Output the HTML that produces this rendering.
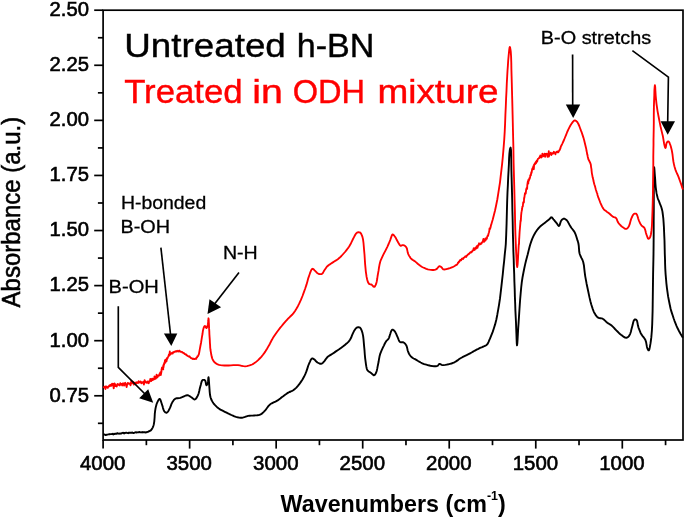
<!DOCTYPE html>
<html lang="en">
<head>
<meta charset="utf-8">
<title>FTIR spectra of h-BN</title>
<style>
html,body{margin:0;padding:0;background:#fff;}
body{width:685px;height:518px;overflow:hidden;}
svg{display:block;}
text{font-family:"Liberation Sans",Arial,sans-serif;fill:#000;}
.tk text{font-size:20px;stroke:#000;stroke-width:0.6px;}
.ann text{font-size:18.9px;stroke:#000;stroke-width:0.3px;}
.big text{font-size:33px;stroke:#000;stroke-width:0.4px;}
.red text{fill:#f00;stroke:#f00;}
</style>
</head>
<body>
<svg width="685" height="518" viewBox="0 0 685 518">
<rect x="0" y="0" width="685" height="518" fill="#fff"/>
<g fill="none" stroke="#000" stroke-width="1.7" stroke-linecap="butt">
<rect x="103.1" y="10.2" width="579.9" height="429.8"/>
<line x1="94.2" y1="10.20" x2="103.1" y2="10.20"/>
<line x1="97.9" y1="37.74" x2="103.1" y2="37.74"/>
<line x1="94.2" y1="65.28" x2="103.1" y2="65.28"/>
<line x1="97.9" y1="92.82" x2="103.1" y2="92.82"/>
<line x1="94.2" y1="120.37" x2="103.1" y2="120.37"/>
<line x1="97.9" y1="147.91" x2="103.1" y2="147.91"/>
<line x1="94.2" y1="175.45" x2="103.1" y2="175.45"/>
<line x1="97.9" y1="202.99" x2="103.1" y2="202.99"/>
<line x1="94.2" y1="230.53" x2="103.1" y2="230.53"/>
<line x1="97.9" y1="258.07" x2="103.1" y2="258.07"/>
<line x1="94.2" y1="285.61" x2="103.1" y2="285.61"/>
<line x1="97.9" y1="313.15" x2="103.1" y2="313.15"/>
<line x1="94.2" y1="340.69" x2="103.1" y2="340.69"/>
<line x1="97.9" y1="368.24" x2="103.1" y2="368.24"/>
<line x1="94.2" y1="395.78" x2="103.1" y2="395.78"/>
<line x1="97.9" y1="423.32" x2="103.1" y2="423.32"/>
<line x1="103.10" y1="440.0" x2="103.10" y2="448.6"/>
<line x1="146.37" y1="440.0" x2="146.37" y2="445.2"/>
<line x1="189.63" y1="440.0" x2="189.63" y2="448.6"/>
<line x1="232.90" y1="440.0" x2="232.90" y2="445.2"/>
<line x1="276.17" y1="440.0" x2="276.17" y2="448.6"/>
<line x1="319.43" y1="440.0" x2="319.43" y2="445.2"/>
<line x1="362.70" y1="440.0" x2="362.70" y2="448.6"/>
<line x1="405.97" y1="440.0" x2="405.97" y2="445.2"/>
<line x1="449.23" y1="440.0" x2="449.23" y2="448.6"/>
<line x1="492.50" y1="440.0" x2="492.50" y2="445.2"/>
<line x1="535.77" y1="440.0" x2="535.77" y2="448.6"/>
<line x1="579.03" y1="440.0" x2="579.03" y2="445.2"/>
<line x1="622.30" y1="440.0" x2="622.30" y2="448.6"/>
<line x1="665.57" y1="440.0" x2="665.57" y2="445.2"/>
</g>
<g class="tk">
<text x="89.0" y="16.0" text-anchor="end" textLength="39.4" lengthAdjust="spacingAndGlyphs">2.50</text>
<text x="89.0" y="71.1" text-anchor="end" textLength="39.4" lengthAdjust="spacingAndGlyphs">2.25</text>
<text x="89.0" y="126.2" text-anchor="end" textLength="39.4" lengthAdjust="spacingAndGlyphs">2.00</text>
<text x="89.0" y="181.2" text-anchor="end" textLength="39.4" lengthAdjust="spacingAndGlyphs">1.75</text>
<text x="89.0" y="236.3" text-anchor="end" textLength="39.4" lengthAdjust="spacingAndGlyphs">1.50</text>
<text x="89.0" y="291.4" text-anchor="end" textLength="39.4" lengthAdjust="spacingAndGlyphs">1.25</text>
<text x="89.0" y="346.5" text-anchor="end" textLength="39.4" lengthAdjust="spacingAndGlyphs">1.00</text>
<text x="89.0" y="401.6" text-anchor="end" textLength="39.4" lengthAdjust="spacingAndGlyphs">0.75</text>
<text x="102.7" y="469.7" text-anchor="middle" textLength="45.4" lengthAdjust="spacingAndGlyphs">4000</text>
<text x="189.2" y="469.7" text-anchor="middle" textLength="45.4" lengthAdjust="spacingAndGlyphs">3500</text>
<text x="275.8" y="469.7" text-anchor="middle" textLength="45.4" lengthAdjust="spacingAndGlyphs">3000</text>
<text x="362.3" y="469.7" text-anchor="middle" textLength="45.4" lengthAdjust="spacingAndGlyphs">2500</text>
<text x="448.8" y="469.7" text-anchor="middle" textLength="45.4" lengthAdjust="spacingAndGlyphs">2000</text>
<text x="535.4" y="469.7" text-anchor="middle" textLength="45.4" lengthAdjust="spacingAndGlyphs">1500</text>
<text x="621.9" y="469.7" text-anchor="middle" textLength="45.4" lengthAdjust="spacingAndGlyphs">1000</text>
</g>
<path d="M103.2,434.9 L104.3,434.5 L105.1,434.7 L105.8,435.1 L106.8,434.7 L107.4,434.6 L108.4,434.4 L109.3,434.2 L109.6,434.3 L110.2,434.1 L110.9,434.1 L111.6,434.1 L112.3,433.8 L113.3,434.5 L113.9,433.7 L114.6,434.0 L115.1,433.8 L115.3,433.9 L115.9,433.7 L116.6,433.7 L117.4,433.1 L118.3,433.6 L119.3,433.7 L120.1,433.4 L120.3,433.5 L120.9,433.7 L121.5,433.4 L122.4,432.9 L123.2,432.8 L124.1,433.4 L124.2,433.1 L124.4,433.3 L125.4,432.9 L126.2,432.6 L127.1,432.9 L127.8,433.1 L128.4,432.8 L128.5,433.2 L129.4,432.7 L130.4,432.7 L131.1,432.6 L131.7,432.9 L132.4,432.5 L132.4,432.6 L132.6,432.8 L133.5,433.0 L134.2,432.8 L135.2,432.4 L136.0,432.2 L136.2,432.4 L136.5,432.6 L137.4,432.4 L138.3,432.2 L139.0,432.4 L139.2,432.4 L139.6,432.0 L140.2,432.2 L141.2,432.4 L142.1,432.1 L142.2,432.4 L142.4,432.3 L143.4,432.3 L144.2,432.3 L144.9,432.3 L145.2,432.5 L146.2,432.3 L147.0,432.3 L147.2,432.0 L147.2,431.9 L148.2,431.7 L148.4,431.7 L148.9,431.1 L149.4,431.2 L150.4,430.7 L151.2,430.0 L152.0,428.9 L152.7,427.6 L153.3,426.1 L153.8,424.4 L154.3,421.3 L154.6,417.5 L154.8,413.7 L155.2,410.3 L155.6,408.0 L156.1,405.9 L156.6,404.0 L157.3,402.3 L157.9,401.1 L158.5,400.0 L159.1,399.2 L159.7,398.9 L160.3,399.5 L160.8,400.9 L161.4,402.7 L161.9,404.3 L162.5,406.1 L163.0,408.1 L163.6,409.9 L164.3,411.3 L164.9,411.9 L165.5,412.4 L166.1,412.7 L166.7,412.7 L167.4,412.3 L168.0,411.5 L168.7,410.4 L169.3,409.3 L170.1,407.7 L170.8,405.8 L171.5,403.9 L172.3,402.3 L173.0,401.2 L173.7,400.2 L174.4,399.4 L175.3,398.7 L176.4,398.3 L177.7,398.2 L179.0,398.1 L180.4,397.9 L182.1,397.2 L184.0,396.3 L185.8,395.5 L187.4,395.2 L188.5,395.5 L189.5,396.0 L190.5,396.7 L191.4,397.3 L192.3,398.0 L193.2,398.7 L194.0,399.3 L194.8,399.5 L195.7,399.0 L196.5,397.9 L197.3,396.6 L198.0,395.2 L198.7,393.2 L199.3,390.8 L199.8,388.4 L200.4,386.2 L200.9,384.4 L201.3,382.7 L201.8,381.1 L202.5,380.2 L203.1,379.9 L203.7,379.9 L204.4,379.9 L204.9,380.2 L205.5,381.3 L205.8,382.9 L206.1,384.5 L206.5,385.2 L206.8,385.0 L207.1,384.5 L207.4,383.9 L207.7,383.2 L208.0,381.7 L208.2,379.7 L208.3,377.9 L208.5,377.2 L208.7,378.2 L208.9,380.5 L209.1,383.5 L209.3,386.2 L209.5,389.0 L209.7,391.9 L210.0,394.8 L210.5,397.3 L211.1,399.0 L211.8,400.5 L212.6,401.9 L213.5,403.3 L214.6,404.7 L215.8,405.9 L217.1,407.2 L218.5,408.3 L220.4,409.6 L222.6,410.7 L224.8,411.8 L226.6,412.7 L227.5,413.2 L228.3,413.5 L229.1,413.9 L230.0,414.3 L231.4,415.0 L232.9,415.7 L234.4,416.4 L236.0,416.9 L237.5,417.3 L239.0,417.6 L240.5,417.7 L242.0,417.7 L243.5,417.4 L245.0,416.9 L246.6,416.3 L248.1,415.9 L249.6,415.7 L251.1,415.6 L252.6,415.6 L254.1,415.5 L255.6,415.4 L257.2,415.3 L258.7,415.1 L260.1,414.7 L261.5,413.9 L262.8,412.8 L264.0,411.6 L265.2,410.3 L266.4,408.8 L267.6,407.2 L268.8,405.7 L270.2,404.3 L271.8,403.3 L273.6,402.4 L275.5,401.6 L277.2,400.7 L278.8,399.6 L280.3,398.5 L281.7,397.3 L283.2,396.2 L284.5,395.2 L285.8,394.3 L287.0,393.4 L288.3,392.6 L289.5,392.0 L290.8,391.5 L292.1,390.9 L293.3,390.2 L294.8,389.0 L296.4,387.6 L297.9,385.9 L299.3,384.2 L300.9,381.9 L302.5,379.5 L304.0,376.8 L305.3,374.2 L306.4,371.4 L307.4,368.4 L308.3,365.5 L309.3,363.1 L310.0,361.6 L310.6,360.2 L311.3,359.1 L312.0,358.5 L312.6,358.5 L313.2,358.7 L313.8,359.1 L314.4,359.5 L315.1,360.2 L315.8,361.0 L316.6,361.8 L317.4,362.5 L318.4,363.0 L319.4,363.5 L320.4,363.7 L321.4,363.7 L322.2,363.3 L323.0,362.7 L323.7,361.9 L324.4,361.1 L325.1,360.2 L325.8,359.1 L326.6,358.1 L327.4,357.1 L328.5,356.2 L329.8,355.4 L331.1,354.6 L332.5,353.7 L334.2,352.6 L335.9,351.4 L337.7,350.2 L339.5,349.0 L341.3,347.7 L343.2,346.3 L344.9,344.9 L346.5,343.6 L347.5,342.7 L348.4,341.8 L349.2,340.9 L350.0,339.8 L351.1,337.8 L352.0,335.4 L353.0,333.1 L354.0,331.1 L354.7,330.0 L355.4,328.9 L356.2,328.1 L357.0,327.5 L357.7,327.3 L358.5,327.2 L359.3,327.4 L360.0,327.7 L360.8,328.6 L361.4,329.9 L362.0,331.4 L362.5,333.1 L363.1,335.9 L363.5,339.2 L363.8,342.7 L364.1,346.2 L364.5,350.2 L364.8,354.5 L365.2,358.6 L365.7,362.3 L366.0,364.6 L366.4,366.9 L366.8,368.8 L367.5,370.3 L368.1,371.0 L368.8,371.5 L369.4,371.9 L370.1,372.3 L370.6,372.7 L371.1,373.1 L371.6,373.5 L372.1,373.9 L372.6,374.3 L373.1,374.8 L373.6,375.2 L374.1,375.3 L374.6,375.0 L375.2,374.4 L375.6,373.6 L376.1,372.7 L376.7,371.0 L377.2,368.9 L377.6,366.6 L378.1,364.3 L378.6,361.8 L379.0,359.2 L379.5,356.6 L380.1,354.2 L380.8,352.3 L381.5,350.6 L382.3,348.9 L383.1,347.2 L383.9,345.6 L384.6,344.0 L385.4,342.5 L386.2,341.2 L386.8,340.5 L387.5,339.9 L388.1,339.3 L388.6,338.6 L389.1,337.6 L389.5,336.4 L389.8,335.3 L390.2,334.1 L390.6,332.8 L391.1,331.4 L391.6,330.3 L392.2,329.7 L392.8,329.7 L393.4,330.0 L394.0,330.5 L394.6,331.1 L395.4,332.3 L396.2,333.9 L396.9,335.6 L397.6,337.2 L398.2,338.6 L398.8,340.1 L399.4,341.4 L400.2,342.2 L400.9,342.4 L401.7,342.2 L402.5,342.1 L403.2,342.2 L404.0,342.7 L404.8,343.4 L405.5,344.2 L406.2,345.2 L406.8,346.7 L407.3,348.6 L407.7,350.5 L408.3,352.2 L408.9,353.5 L409.6,354.7 L410.4,355.8 L411.3,356.8 L412.4,357.7 L413.6,358.5 L415.0,359.2 L416.3,359.9 L417.7,360.8 L419.2,361.7 L420.7,362.5 L422.3,363.3 L424.2,364.1 L426.3,364.7 L428.4,365.3 L430.4,365.7 L432.3,366.0 L434.2,366.2 L436.0,366.2 L437.4,365.9 L438.0,365.4 L438.5,364.8 L438.9,364.2 L439.4,363.9 L440.1,364.0 L440.8,364.4 L441.5,364.8 L442.4,365.1 L443.7,365.1 L445.3,364.9 L446.9,364.6 L448.4,364.3 L449.9,363.9 L451.5,363.5 L453.0,362.9 L454.5,362.3 L456.0,361.4 L457.5,360.4 L458.9,359.3 L460.5,358.3 L462.4,357.2 L464.5,356.2 L466.6,355.2 L468.5,354.2 L470.1,353.3 L471.6,352.5 L473.1,351.6 L474.5,350.8 L475.8,350.1 L477.1,349.4 L478.4,348.8 L479.6,348.2 L480.6,347.7 L481.7,347.3 L482.6,346.9 L483.6,346.5 L484.5,346.1 L485.4,345.7 L486.2,345.2 L487.0,344.6 L487.9,343.4 L488.6,341.9 L489.3,340.2 L490.1,338.4 L491.3,335.4 L492.7,331.9 L493.9,328.2 L495.1,324.4 L496.3,319.7 L497.3,314.7 L498.2,309.6 L499.1,304.3 L500.0,298.4 L500.7,292.4 L501.4,286.3 L502.1,280.2 L502.8,274.0 L503.4,267.6 L504.1,261.5 L504.6,256.1 L504.9,253.0 L505.2,250.3 L505.5,247.5 L505.8,244.0 L506.2,234.8 L506.6,223.3 L506.9,211.3 L507.2,200.3 L507.5,192.2 L507.9,184.5 L508.2,177.1 L508.6,170.1 L508.9,164.3 L509.1,158.6 L509.4,153.5 L509.8,150.0 L510.0,149.1 L510.2,148.3 L510.4,147.8 L510.6,147.6 L511.0,150.0 L511.2,155.9 L511.3,163.2 L511.4,170.1 L511.6,177.2 L511.8,184.6 L512.0,192.3 L512.2,200.3 L512.4,210.8 L512.7,222.2 L512.9,233.5 L513.2,244.0 L513.4,251.9 L513.7,259.4 L513.9,266.7 L514.2,274.1 L514.4,281.7 L514.7,289.4 L514.9,297.0 L515.2,304.3 L515.4,310.6 L515.7,316.8 L516.0,322.7 L516.2,328.4 L516.4,333.7 L516.6,339.2 L516.8,343.6 L517.0,345.4 L517.3,343.6 L517.6,339.2 L517.9,333.7 L518.2,328.4 L518.6,322.6 L519.0,316.5 L519.4,310.3 L519.8,304.3 L520.2,298.7 L520.7,293.0 L521.2,287.5 L521.8,282.2 L522.5,277.5 L523.4,272.8 L524.3,268.3 L525.2,264.1 L526.0,260.8 L526.8,257.7 L527.6,254.8 L528.3,252.0 L528.8,249.9 L529.3,247.9 L529.8,246.0 L530.4,244.0 L531.2,241.6 L532.1,239.1 L533.2,236.7 L534.3,234.4 L535.4,232.5 L536.6,230.7 L537.9,229.0 L539.3,227.4 L540.7,226.0 L542.3,224.7 L543.9,223.5 L545.3,222.4 L546.4,221.6 L547.4,220.8 L548.4,220.0 L549.3,219.3 L549.9,218.7 L550.4,218.0 L550.9,217.5 L551.4,217.3 L551.9,217.5 L552.4,218.0 L552.9,218.6 L553.4,219.3 L554.2,220.2 L555.1,221.3 L556.0,222.4 L556.8,223.4 L557.4,224.2 L558.0,225.1 L558.5,225.8 L559.0,226.0 L559.6,225.2 L560.1,223.6 L560.7,221.7 L561.4,220.3 L562.0,219.7 L562.6,219.2 L563.3,218.8 L564.0,218.7 L564.7,218.8 L565.4,219.2 L566.1,219.7 L566.8,220.3 L567.7,221.5 L568.6,223.1 L569.5,224.8 L570.4,226.4 L571.5,228.0 L572.7,229.5 L573.9,231.1 L574.9,232.8 L575.7,234.7 L576.4,236.7 L577.0,238.7 L577.5,240.4 L577.8,241.3 L578.1,242.2 L578.3,243.0 L578.5,244.0 L578.8,246.2 L579.0,248.8 L579.2,251.5 L579.7,254.0 L580.5,256.0 L581.4,257.9 L582.4,259.8 L583.2,262.0 L583.9,265.2 L584.3,268.8 L584.7,272.4 L585.2,276.1 L585.9,279.9 L586.6,283.7 L587.4,287.5 L588.2,291.2 L588.9,294.6 L589.6,297.9 L590.4,301.2 L591.2,304.2 L592.0,306.7 L592.8,309.1 L593.6,311.3 L594.6,313.3 L595.4,314.6 L596.3,315.9 L597.2,316.9 L598.2,317.7 L599.2,318.1 L600.4,318.2 L601.5,318.4 L602.6,318.7 L603.8,319.5 L605.0,320.6 L606.1,321.7 L607.3,322.7 L608.3,323.4 L609.3,324.0 L610.3,324.6 L611.3,325.3 L612.5,326.4 L613.8,327.7 L615.0,329.0 L616.3,330.3 L617.5,331.5 L618.8,332.8 L620.0,334.0 L621.3,335.0 L622.6,335.9 L623.9,336.9 L625.1,337.6 L626.3,337.8 L627.2,337.6 L628.0,337.0 L628.7,336.3 L629.4,335.4 L630.2,333.8 L630.9,331.7 L631.4,329.4 L632.0,327.3 L632.6,325.1 L633.1,322.8 L633.7,320.8 L634.4,319.7 L634.9,319.5 L635.4,319.5 L635.9,319.6 L636.4,319.9 L637.1,321.1 L637.5,323.0 L637.9,325.3 L638.4,327.3 L639.1,329.1 L639.8,330.9 L640.5,332.7 L641.4,334.4 L642.4,335.8 L643.5,337.2 L644.5,338.5 L645.4,340.0 L646.1,342.1 L646.5,344.4 L646.9,346.7 L647.4,348.4 L647.7,349.1 L648.1,349.8 L648.5,350.3 L648.8,350.4 L649.3,349.6 L649.7,347.9 L650.1,345.6 L650.5,343.4 L650.9,340.5 L651.3,337.4 L651.6,334.0 L651.9,330.3 L652.2,324.4 L652.4,317.9 L652.6,311.1 L652.7,304.2 L652.8,296.7 L652.9,288.9 L653.0,281.2 L653.1,274.1 L653.2,269.0 L653.3,264.3 L653.4,259.5 L653.5,254.0 L653.6,244.2 L653.7,233.2 L653.7,221.6 L653.8,210.3 L653.8,197.5 L653.8,183.3 L653.9,171.8 L654.1,167.1 L654.3,168.0 L654.5,170.3 L654.7,173.3 L654.9,176.1 L655.2,179.5 L655.4,183.3 L655.7,187.0 L656.1,190.2 L656.4,192.2 L656.7,193.9 L657.1,195.6 L657.5,197.2 L657.9,198.6 L658.4,199.9 L659.0,201.2 L659.5,202.6 L660.1,204.2 L660.8,205.8 L661.4,207.5 L661.9,209.3 L662.4,211.4 L662.7,213.5 L663.0,215.8 L663.3,218.3 L663.6,222.4 L663.9,227.0 L664.1,231.7 L664.3,236.4 L664.5,240.8 L664.6,245.1 L664.7,249.5 L664.8,254.0 L665.0,259.0 L665.1,264.0 L665.3,269.1 L665.6,274.1 L666.0,278.7 L666.4,283.3 L666.9,287.8 L667.5,292.2 L668.1,296.4 L668.9,300.5 L669.7,304.5 L670.5,308.2 L671.2,310.9 L672.0,313.4 L672.8,315.8 L673.6,318.3 L674.5,320.8 L675.5,323.3 L676.5,325.8 L677.6,328.3 L679.1,331.2 L680.8,334.3 L682.3,336.8 L682.9,337.8" fill="none" stroke="#000" stroke-width="1.9" stroke-linejoin="round"/>
<path d="M103.2,386.8 L104.2,387.4 L104.8,387.6 L105.1,386.5 L105.4,389.0 L105.9,386.6 L106.4,386.5 L107.0,387.4 L107.8,387.8 L108.3,386.5 L108.8,386.1 L109.5,385.3 L109.6,385.8 L109.6,386.3 L110.2,385.9 L110.8,384.8 L111.5,385.7 L112.1,383.6 L112.6,385.0 L113.1,383.9 L113.7,388.4 L114.4,383.4 L115.0,384.1 L115.1,384.9 L115.4,386.0 L116.0,385.5 L116.7,386.4 L117.2,384.5 L117.7,384.0 L118.1,384.6 L118.6,384.4 L119.0,385.2 L119.7,385.5 L120.1,384.2 L120.3,383.1 L121.1,384.6 L121.6,383.9 L122.2,385.5 L122.7,383.5 L123.5,383.4 L124.2,385.6 L124.2,383.7 L124.7,383.9 L125.2,382.8 L125.6,384.1 L126.2,385.3 L126.6,387.0 L127.3,383.9 L127.8,382.9 L128.3,383.3 L128.9,383.9 L129.5,383.6 L130.0,383.4 L130.5,385.3 L131.0,383.4 L131.4,380.6 L132.1,382.5 L132.3,382.9 L132.4,383.1 L133.0,381.8 L133.7,384.6 L134.4,382.6 L134.9,383.4 L135.4,382.6 L136.1,383.6 L136.2,382.6 L136.8,382.3 L137.3,382.6 L137.9,383.1 L138.6,381.2 L139.1,382.6 L139.4,382.4 L139.9,382.4 L140.6,381.4 L141.3,383.3 L142.1,382.2 L142.6,382.7 L142.6,382.4 L142.7,382.7 L143.4,381.9 L143.9,384.6 L144.6,380.2 L145.3,381.9 L145.6,382.2 L145.7,382.0 L146.2,382.8 L146.7,382.7 L147.3,381.5 L147.9,382.8 L148.2,381.8 L148.2,381.3 L148.7,383.3 L149.3,381.5 L149.9,381.3 L150.3,379.0 L150.8,380.2 L151.3,381.0 L151.4,380.7 L151.9,378.9 L152.5,378.6 L152.8,380.0 L153.1,379.8 L153.8,378.6 L154.2,379.2 L154.5,376.4 L155.2,378.9 L155.6,378.7 L155.6,378.2 L156.0,378.4 L156.6,374.6 L156.9,377.0 L157.4,377.4 L157.9,375.7 L158.2,375.7 L158.6,375.8 L159.1,375.6 L159.3,374.2 L159.7,375.2 L160.1,373.0 L160.5,372.1 L160.8,375.0 L161.5,371.3 L161.5,369.7 L161.5,369.9 L162.1,367.3 L162.4,367.3 L162.6,368.7 L163.2,369.4 L163.3,365.2 L163.5,367.4 L163.9,363.9 L163.9,365.1 L164.3,363.7 L164.4,362.7 L164.9,361.5 L165.0,360.1 L165.4,360.5 L165.5,362.7 L165.8,359.8 L166.0,360.0 L166.3,359.1 L166.6,361.1 L166.8,358.5 L167.2,359.0 L167.3,357.8 L167.6,358.1 L168.0,357.0 L168.2,356.4 L168.7,356.1 L168.9,354.4 L169.4,355.3 L169.8,351.5 L170.1,354.6 L170.1,354.7 L170.6,354.1 L170.7,354.1 L171.1,353.6 L171.7,353.1 L171.7,353.2 L171.9,352.8 L172.3,352.8 L172.5,353.6 L173.0,352.2 L173.4,352.2 L173.6,352.5 L174.2,351.9 L174.6,351.6 L174.7,351.6 L175.1,351.7 L175.6,351.4 L176.0,351.2 L176.4,351.6 L177.1,350.8 L177.3,351.0 L177.7,351.2 L178.2,351.5 L178.6,351.1 L179.1,350.6 L179.7,350.7 L179.8,351.4 L180.2,351.6 L180.8,351.8 L181.1,351.9 L181.3,351.8 L182.1,351.9 L182.4,352.5 L182.7,352.5 L183.4,353.0 L183.9,353.3 L183.9,352.9 L184.4,353.9 L184.9,354.1 L185.4,354.2 L185.7,354.1 L186.4,355.1 L186.9,355.2 L186.9,355.4 L187.5,355.8 L187.9,356.1 L188.4,356.1 L188.8,356.5 L189.4,356.3 L189.9,357.1 L190.1,357.2 L190.8,358.0 L191.5,358.1 L191.8,358.3 L192.3,358.7 L192.7,358.6 L193.0,358.9 L193.1,359.1 L193.8,358.6 L194.4,359.1 L194.7,359.0 L195.3,358.8 L195.4,358.8 L195.6,358.4 L196.3,358.8 L196.4,358.1 L196.9,357.3 L197.2,357.2 L197.5,356.1 L198.0,356.1 L198.9,354.1 L199.4,351.5 L199.9,348.7 L200.4,346.0 L201.0,343.0 L201.5,339.8 L202.0,336.7 L202.5,334.0 L202.7,332.4 L202.9,330.9 L203.2,329.6 L203.5,328.4 L203.8,327.6 L204.1,326.8 L204.5,326.2 L204.9,326.0 L205.3,326.3 L205.7,327.0 L206.1,327.7 L206.5,328.0 L206.9,327.6 L207.3,326.7 L207.6,325.5 L207.9,324.4 L208.1,322.7 L208.3,320.7 L208.4,319.0 L208.5,318.3 L208.7,319.4 L208.8,322.0 L209.0,325.4 L209.1,328.4 L209.3,331.3 L209.4,334.2 L209.6,337.1 L209.8,340.0 L209.9,342.6 L210.1,345.1 L210.2,347.6 L210.5,350.0 L210.9,352.4 L211.3,354.8 L211.8,357.1 L212.5,359.1 L213.1,360.3 L213.8,361.4 L214.6,362.3 L215.5,363.1 L216.6,363.8 L217.8,364.3 L219.1,364.8 L220.5,365.1 L222.4,365.4 L224.4,365.5 L226.5,365.5 L228.6,365.5 L230.9,365.4 L233.3,365.2 L235.7,365.1 L238.0,365.1 L239.9,365.4 L241.6,365.8 L243.4,366.2 L245.1,366.3 L246.9,366.1 L248.7,365.7 L250.4,365.2 L252.1,364.5 L253.7,363.6 L255.2,362.6 L256.7,361.4 L258.1,360.1 L259.7,358.5 L261.3,356.8 L262.8,355.0 L264.2,353.1 L265.6,351.1 L266.9,349.0 L268.1,346.9 L269.2,345.0 L269.9,343.7 L270.5,342.5 L271.1,341.3 L271.8,340.0 L272.9,338.1 L274.2,336.1 L275.6,334.0 L277.0,332.0 L278.5,330.0 L280.1,327.9 L281.7,326.0 L283.2,324.1 L284.5,322.6 L285.8,321.1 L287.0,319.8 L288.3,318.4 L289.6,317.2 L290.8,316.0 L292.1,314.8 L293.3,313.4 L294.9,311.2 L296.4,308.8 L297.9,306.2 L299.3,303.4 L300.9,299.9 L302.5,296.0 L303.9,292.1 L305.3,288.3 L306.4,284.9 L307.4,281.4 L308.3,278.1 L309.3,275.2 L310.0,273.2 L310.8,271.1 L311.5,269.6 L312.4,268.8 L313.1,269.0 L313.9,269.6 L314.6,270.4 L315.4,271.2 L316.1,271.9 L316.9,272.7 L317.6,273.3 L318.4,273.8 L319.3,274.0 L320.2,274.1 L321.2,274.1 L322.0,273.8 L322.7,273.2 L323.3,272.2 L323.8,271.2 L324.4,270.2 L325.1,269.2 L325.8,268.2 L326.5,267.2 L327.4,266.2 L328.5,265.2 L329.8,264.4 L331.1,263.5 L332.5,262.6 L334.2,261.5 L336.0,260.4 L337.8,259.2 L339.5,257.8 L341.4,256.0 L343.2,254.0 L345.0,252.0 L346.5,250.1 L347.5,248.8 L348.4,247.6 L349.2,246.4 L350.0,245.1 L351.0,243.2 L352.0,241.1 L353.0,239.0 L354.0,237.1 L354.7,235.8 L355.4,234.5 L356.2,233.4 L357.0,232.7 L357.7,232.4 L358.5,232.2 L359.3,232.3 L360.0,232.5 L360.8,233.2 L361.4,234.3 L362.0,235.6 L362.5,237.1 L363.1,239.8 L363.5,243.0 L363.8,246.5 L364.1,250.1 L364.5,254.5 L364.8,259.2 L365.1,263.9 L365.5,268.2 L365.8,271.3 L366.2,274.2 L366.6,276.9 L367.1,279.3 L367.5,280.7 L367.9,282.0 L368.5,283.1 L369.1,283.9 L369.7,284.2 L370.4,284.4 L371.1,284.5 L371.7,284.7 L372.3,285.3 L373.0,286.0 L373.5,286.7 L374.1,286.9 L374.7,286.6 L375.2,285.9 L375.7,284.9 L376.1,283.9 L376.7,281.7 L377.2,279.0 L377.6,276.0 L378.1,273.2 L378.6,270.4 L379.0,267.5 L379.5,264.8 L380.1,262.2 L380.7,260.3 L381.5,258.6 L382.3,256.9 L383.1,255.2 L384.1,253.2 L385.2,251.1 L386.2,249.1 L387.2,247.1 L388.0,245.3 L388.8,243.5 L389.5,241.8 L390.2,240.1 L390.8,238.4 L391.4,236.6 L391.9,235.2 L392.6,234.5 L393.2,234.7 L393.9,235.3 L394.6,236.2 L395.2,237.1 L396.0,238.3 L396.7,239.8 L397.5,241.2 L398.2,242.5 L398.8,243.5 L399.3,244.4 L399.9,245.2 L400.6,245.7 L401.2,245.7 L401.9,245.4 L402.5,245.2 L403.2,245.1 L404.0,245.3 L404.8,245.8 L405.5,246.4 L406.2,247.1 L406.9,248.5 L407.3,250.4 L407.7,252.4 L408.3,254.1 L408.9,255.4 L409.6,256.6 L410.4,257.8 L411.3,258.8 L412.2,259.6 L413.2,260.2 L414.3,260.9 L415.3,261.6 L416.5,262.6 L417.7,263.7 L419.0,264.8 L420.3,265.8 L421.7,266.7 L423.2,267.5 L424.8,268.2 L426.3,268.8 L427.8,269.3 L429.4,269.7 L431.0,269.9 L432.4,270.0 L433.5,270.0 L434.5,269.8 L435.5,269.6 L436.4,269.2 L437.2,268.5 L438.0,267.5 L438.7,266.6 L439.4,266.2 L439.9,266.2 L440.4,266.5 L440.9,266.8 L441.4,267.2 L441.9,267.7 L442.3,268.4 L442.8,269.0 L443.4,269.4 L444.3,269.5 L445.3,269.4 L446.3,269.1 L447.4,268.8 L448.6,268.5 L449.9,268.2 L451.2,267.7 L452.5,267.2 L453.8,266.5 L455.1,265.7 L455.4,265.4 L456.1,265.1 L456.4,264.7 L456.5,264.6 L457.1,264.6 L457.5,263.8 L458.0,262.7 L458.3,262.9 L458.7,261.8 L459.0,262.0 L459.3,261.7 L459.7,261.1 L460.2,260.0 L460.5,260.2 L460.7,259.9 L461.2,260.2 L461.8,258.8 L461.8,259.1 L462.0,258.9 L462.6,258.7 L463.1,259.0 L463.4,258.0 L463.4,257.9 L463.9,257.8 L464.7,257.1 L465.0,256.9 L465.2,256.4 L465.6,256.3 L466.2,256.9 L466.5,255.8 L466.6,255.7 L467.2,255.5 L467.9,254.7 L468.0,254.5 L468.6,254.0 L469.2,253.8 L469.5,253.2 L470.5,252.3 L471.0,252.5 L471.0,251.8 L471.4,252.3 L472.0,251.7 L472.5,250.8 L472.5,250.5 L472.7,250.8 L473.3,250.3 L473.7,248.3 L474.0,249.1 L474.4,250.0 L474.9,249.5 L475.4,247.6 L475.6,247.8 L476.1,248.6 L476.7,246.1 L477.1,246.4 L477.5,247.9 L478.0,245.3 L478.4,245.6 L478.6,245.1 L479.1,243.3 L479.8,244.2 L479.9,244.0 L480.4,244.2 L480.9,243.4 L481.2,243.0 L481.3,243.8 L481.7,243.0 L482.1,242.2 L482.4,242.0 L482.9,241.3 L483.4,238.9 L483.6,241.0 L484.0,241.9 L484.5,240.4 L484.5,240.2 L484.5,240.0 L485.0,240.6 L485.4,238.4 L485.4,239.4 L485.4,240.6 L485.9,239.3 L486.2,238.5 L486.3,238.3 L486.9,238.7 L487.0,237.5 L487.1,237.0 L487.8,235.4 L487.9,235.6 L488.1,235.8 L488.5,233.8 L488.6,233.5 L489.0,232.3 L489.3,231.0 L489.5,228.5 L490.0,229.1 L490.1,228.4 L490.4,228.0 L491.0,225.2 L491.3,224.4 L491.7,222.9 L492.6,219.9 L493.9,215.1 L495.1,210.3 L496.2,205.0 L497.3,199.5 L498.2,193.9 L499.1,188.2 L500.0,182.3 L500.7,176.2 L501.4,170.2 L502.1,164.1 L502.7,158.2 L503.2,152.3 L503.7,146.3 L504.2,140.0 L504.7,131.9 L505.1,123.4 L505.4,114.7 L505.8,106.3 L506.1,98.5 L506.5,90.8 L506.8,83.3 L507.2,76.2 L507.5,70.7 L507.9,65.4 L508.2,60.5 L508.6,56.1 L508.9,53.1 L509.2,50.2 L509.5,47.9 L509.8,47.0 L510.1,47.5 L510.3,48.7 L510.6,50.3 L510.8,52.1 L511.1,56.8 L511.3,62.9 L511.4,69.6 L511.6,76.2 L511.8,83.4 L512.0,90.9 L512.2,98.6 L512.4,106.3 L512.6,114.6 L512.8,123.1 L513.0,131.7 L513.2,140.0 L513.4,147.6 L513.5,155.2 L513.6,162.6 L513.8,170.1 L514.0,177.5 L514.2,184.8 L514.4,192.4 L514.6,200.3 L514.9,211.0 L515.1,222.5 L515.4,233.9 L515.8,244.0 L516.1,251.4 L516.5,258.9 L516.8,264.7 L517.2,267.1 L517.6,264.6 L518.0,258.5 L518.4,250.9 L518.8,244.0 L519.0,244.3 L519.2,238.0 L519.2,239.2 L519.6,232.0 L520.1,226.1 L520.6,220.4 L520.8,221.2 L521.1,215.7 L521.5,211.8 L521.7,211.2 L522.1,209.0 L522.4,206.7 L522.8,206.5 L523.2,202.3 L523.4,203.1 L523.9,202.2 L524.1,197.9 L524.3,198.2 L525.0,193.2 L525.1,193.6 L525.7,193.7 L526.2,189.3 L526.7,187.9 L527.1,188.9 L527.3,185.2 L527.8,181.5 L528.3,183.6 L528.3,181.7 L528.3,180.0 L528.9,180.7 L529.3,178.3 L529.6,178.9 L530.2,176.7 L530.3,175.1 L530.8,175.5 L531.3,172.1 L531.6,172.8 L532.0,170.0 L532.2,169.1 L532.6,168.1 L532.9,168.4 L533.3,166.3 L533.8,169.3 L534.1,164.6 L534.1,164.6 L534.6,164.3 L534.9,163.2 L535.0,164.3 L535.6,162.7 L535.8,161.9 L536.0,163.3 L536.6,161.4 L536.7,160.7 L537.2,161.6 L537.6,159.6 L538.1,158.6 L538.4,158.6 L538.9,158.2 L539.3,157.7 L539.4,157.9 L540.0,156.1 L540.2,156.9 L540.3,155.5 L540.7,157.4 L541.1,156.2 L541.6,157.5 L542.0,156.1 L542.1,155.6 L542.4,153.7 L542.9,154.6 L543.1,155.1 L543.5,156.2 L544.0,155.2 L544.2,154.7 L544.6,153.7 L545.1,156.9 L545.4,154.3 L545.6,153.9 L546.1,154.1 L546.7,153.6 L547.0,153.9 L547.5,156.8 L548.3,156.6 L548.8,151.2 L548.8,153.6 L548.9,156.5 L549.5,153.6 L550.0,153.8 L550.6,153.4 L550.8,152.7 L551.3,155.0 L552.3,153.3 L552.4,153.1 L552.8,153.6 L553.2,153.5 L553.8,151.8 L554.0,152.9 L554.3,152.2 L554.9,152.6 L555.4,154.3 L555.6,152.7 L555.7,152.7 L556.1,152.4 L556.8,151.7 L557.1,152.4 L557.1,151.9 L557.7,151.4 L558.1,152.2 L558.4,151.7 L558.4,152.2 L558.9,151.1 L559.4,150.1 L559.4,150.5 L559.5,150.1 L559.9,149.6 L560.1,148.9 L560.5,148.0 L560.7,147.1 L560.8,146.7 L561.4,145.5 L562.1,144.1 L562.7,142.8 L563.3,141.5 L564.0,140.0 L565.0,137.5 L566.1,134.8 L567.2,132.0 L568.4,129.4 L569.4,127.4 L570.4,125.5 L571.5,123.8 L572.5,122.4 L573.1,121.7 L573.7,121.0 L574.3,120.6 L574.9,120.4 L575.5,120.6 L576.2,121.0 L576.9,121.6 L577.5,122.4 L578.4,124.0 L579.3,126.0 L580.1,128.2 L580.9,130.4 L581.8,132.7 L582.6,135.1 L583.4,137.6 L584.1,140.0 L584.7,142.5 L585.3,145.0 L585.9,147.5 L586.3,149.1 L586.4,150.0 L586.5,150.8 L586.9,152.4 L587.0,153.1 L587.3,154.8 L587.3,154.1 L587.8,157.0 L588.1,158.1 L588.3,159.0 L588.8,160.1 L588.9,160.2 L589.3,161.0 L589.8,162.1 L589.8,161.9 L590.3,163.1 L590.8,164.6 L591.0,166.1 L591.0,166.6 L591.5,169.3 L591.5,169.8 L591.9,173.5 L592.0,173.8 L592.3,175.4 L592.7,177.6 L593.3,179.7 L593.5,181.1 L593.5,181.1 L594.3,184.2 L594.4,184.5 L595.0,186.2 L595.4,187.9 L595.8,189.5 L596.4,191.2 L596.7,192.3 L597.3,193.6 L597.4,194.3 L597.5,194.9 L598.3,197.5 L598.3,197.3 L598.4,197.7 L598.8,198.6 L599.4,200.2 L599.7,201.0 L600.4,202.8 L601.2,204.6 L602.0,206.4 L602.8,207.9 L603.8,209.3 L604.8,210.3 L606.0,211.1 L607.1,211.9 L608.3,212.7 L609.6,213.8 L610.9,215.0 L612.1,216.1 L613.3,216.9 L614.0,217.2 L614.7,217.4 L615.3,217.5 L615.9,217.9 L616.6,218.8 L617.1,220.1 L617.6,221.5 L618.3,222.7 L619.2,223.9 L620.2,225.0 L621.2,226.0 L622.3,226.9 L623.3,227.6 L624.3,228.3 L625.4,228.8 L626.3,228.9 L627.1,228.5 L627.8,227.8 L628.4,226.9 L629.0,225.9 L629.7,224.2 L630.2,222.2 L630.8,220.1 L631.4,218.3 L632.0,217.0 L632.6,215.7 L633.3,214.6 L634.0,213.9 L634.6,213.7 L635.2,213.6 L635.8,213.6 L636.4,213.9 L637.1,215.0 L637.7,216.7 L638.2,218.6 L638.8,220.3 L639.4,221.7 L640.0,223.0 L640.7,224.2 L641.4,225.3 L642.1,226.0 L642.9,226.6 L643.7,227.1 L644.4,227.9 L645.0,229.3 L645.5,231.0 L645.9,232.8 L646.4,234.4 L646.9,235.8 L647.4,237.2 L647.9,238.3 L648.4,238.8 L648.8,238.7 L649.2,238.4 L649.6,238.0 L650.0,237.4 L650.5,236.1 L650.9,234.5 L651.2,232.5 L651.5,230.4 L651.9,226.2 L652.1,221.3 L652.3,215.9 L652.5,210.3 L652.7,203.2 L652.9,195.6 L653.0,187.8 L653.1,180.1 L653.2,172.4 L653.3,164.6 L653.3,157.1 L653.4,150.0 L653.5,144.9 L653.5,140.1 L653.6,135.4 L653.7,130.3 L653.8,123.0 L653.8,115.0 L653.9,107.2 L654.1,100.2 L654.3,95.4 L654.4,90.4 L654.7,86.6 L654.9,85.1 L655.2,86.8 L655.4,90.8 L655.7,95.8 L656.1,100.2 L656.5,103.8 L657.0,107.3 L657.5,110.8 L658.1,114.2 L658.7,117.3 L659.3,120.4 L659.9,123.4 L660.5,126.3 L661.1,128.9 L661.7,131.4 L662.3,133.9 L662.9,136.3 L663.3,138.7 L663.7,141.2 L664.1,143.5 L664.5,145.4 L664.7,146.3 L665.0,147.1 L665.2,147.8 L665.5,148.0 L665.8,147.3 L666.1,145.6 L666.4,143.7 L666.9,142.4 L667.3,142.0 L667.7,141.6 L668.1,141.4 L668.5,141.4 L668.9,141.8 L669.4,142.5 L669.7,143.4 L670.1,144.4 L670.7,146.0 L671.2,147.9 L671.7,149.9 L672.1,152.0 L672.5,154.4 L672.8,157.0 L673.1,159.5 L673.5,162.0 L673.9,164.1 L674.4,166.2 L675.0,168.2 L675.6,170.1 L676.3,171.9 L677.0,173.5 L677.8,175.2 L678.6,177.1 L679.8,180.5 L681.3,184.6 L682.4,188.1 L682.9,189.5" fill="none" stroke="#f00" stroke-width="1.85" stroke-linejoin="round"/>
<g fill="none" stroke="#000" stroke-width="1.65">
<path d="M118.3,306.3 L118.3,367.3 L148,397"/>
<path d="M160.9,247.6 L170.5,334"/>
<path d="M239,272.4 L213,306"/>
<path d="M572.6,54.6 L572.7,105"/>
<path d="M632.4,50.7 L668.4,77.2 L667.7,122"/>
</g>
<g fill="#000" stroke="none">
<polygon points="153.2,402.7 139.2,398.3 148.2,389.2"/>
<polygon points="171.3,346 163.9,333.4 177.3,333.4"/>
<polygon points="207.5,313.9 209.5,299.3 221.1,307.3"/>
<polygon points="573.2,118 565.8,104.5 580.2,104.5"/>
<polygon points="667.7,134.7 660.6,121.2 675,121.2"/>
</g>
<g class="ann">
<text x="120.9" y="209.3" textLength="85.3" lengthAdjust="spacingAndGlyphs">H-bonded</text>
<text x="120.5" y="232.7" textLength="49.6" lengthAdjust="spacingAndGlyphs">B-OH</text>
<text x="222.9" y="259" textLength="34.8" lengthAdjust="spacingAndGlyphs">N-H</text>
<text x="108.6" y="293" textLength="50.3" lengthAdjust="spacingAndGlyphs">B-OH</text>
<text x="540.8" y="44" textLength="110.4" lengthAdjust="spacingAndGlyphs">B-O stretchs</text>
</g>
<g class="big">
<text x="124.31" y="57" textLength="161.52" lengthAdjust="spacingAndGlyphs">Untreated</text>
<text x="296.77" y="57" textLength="77.7" lengthAdjust="spacingAndGlyphs">h-BN</text>
</g>
<g class="big red">
<text x="124.16" y="102.8" textLength="118.51" lengthAdjust="spacingAndGlyphs">Treated</text>
<text x="252.34" y="102.8" textLength="30.59" lengthAdjust="spacingAndGlyphs">in</text>
<text x="292.7" y="102.8" textLength="72.44" lengthAdjust="spacingAndGlyphs">ODH</text>
<text x="377.41" y="102.8" textLength="121.13" lengthAdjust="spacingAndGlyphs">mixture</text>
</g>
<text transform="translate(19.8,307.4) rotate(-90)" font-size="25.3" textLength="190.6" lengthAdjust="spacingAndGlyphs" stroke="#000" stroke-width="0.55">Absorbance (a.u.)</text>
<text x="280.6" y="511.5" font-size="23.6" font-weight="bold" textLength="225.2" lengthAdjust="spacingAndGlyphs">Wavenumbers (cm<tspan dy="-11.9" font-size="12.6">-1</tspan><tspan dy="11.9">)</tspan></text>
</svg>
</body>
</html>
